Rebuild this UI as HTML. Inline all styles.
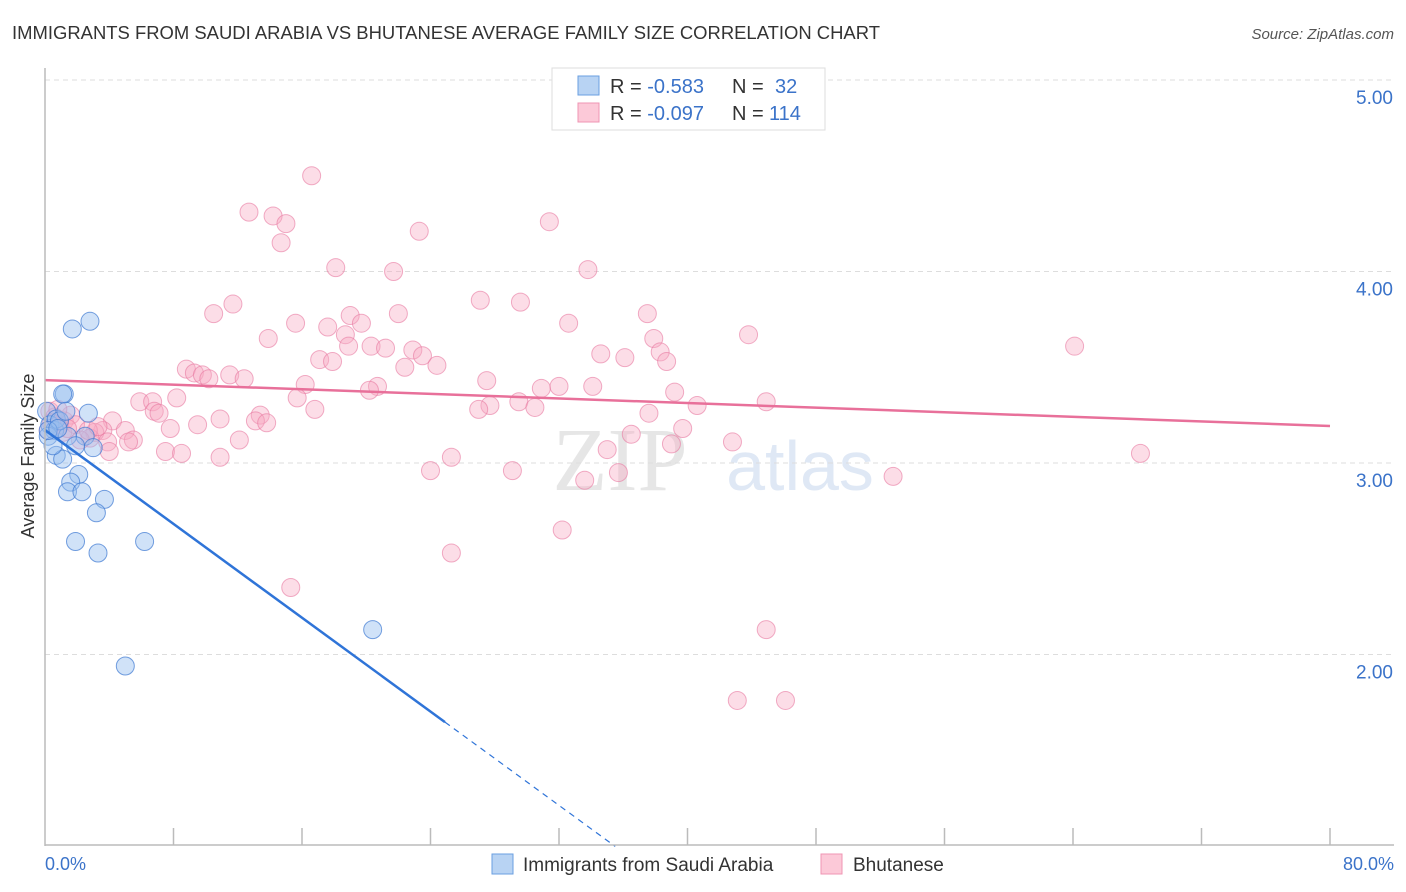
<!DOCTYPE html>
<html><head><meta charset="utf-8"><style>
body{margin:0;background:#fff;font-family:"Liberation Sans",sans-serif;}
#wrap{position:relative;width:1406px;height:892px;overflow:hidden;}
</style></head><body>
<div id="wrap">
<svg id="svg" width="1406" height="892" xmlns="http://www.w3.org/2000/svg">
<text x="12" y="39" font-size="18" fill="#333" textLength="868" lengthAdjust="spacingAndGlyphs">IMMIGRANTS FROM SAUDI ARABIA VS BHUTANESE AVERAGE FAMILY SIZE CORRELATION CHART</text>
<text x="1394" y="39" font-size="15" fill="#555" font-style="italic" text-anchor="end">Source: ZipAtlas.com</text>
<text x="620" y="490" font-size="90" fill="#e6e6e6" font-family="Liberation Serif" text-anchor="middle">ZIP</text>
<text x="800" y="490" font-size="70" fill="#dfe8f5" text-anchor="middle">atlas</text>
<text transform="translate(34,456) rotate(-90)" font-size="18" fill="#333" text-anchor="middle">Average Family Size</text>
<g id="grid"></g><g id="pts"></g><g id="lines"></g>
<line x1="45" y1="68" x2="45" y2="846" stroke="#bbb" stroke-width="1.5"/>
<line x1="45" y1="845" x2="1394" y2="845" stroke="#bbb" stroke-width="1.5"/>
<text x="45" y="870" font-size="18" fill="#3b73c9">0.0%</text>
<text x="1394" y="870" font-size="18" fill="#3b73c9" text-anchor="end">80.0%</text>
<g>
<rect x="552" y="68" width="273" height="62" fill="#fff" stroke="#ddd"/>
<rect x="578" y="76" width="21" height="19" fill="#b8d3f3" stroke="#6a9fe0"/>
<rect x="578" y="103" width="21" height="19" fill="#fcc9d8" stroke="#ef95b3"/>
<text x="610" y="93" font-size="20" fill="#333">R = <tspan fill="#3b73c9">-0.583</tspan><tspan x="732">N = </tspan><tspan x="775" fill="#3b73c9">32</tspan></text>
<text x="610" y="120" font-size="20" fill="#333">R = <tspan fill="#3b73c9">-0.097</tspan><tspan x="732">N = </tspan><tspan x="769" fill="#3b73c9">114</tspan></text>
</g>
<g>
<rect x="492" y="854" width="21" height="20" fill="#b8d3f3" stroke="#6a9fe0"/>
<text x="523" y="871" font-size="19" fill="#333">Immigrants from Saudi Arabia</text>
<rect x="821" y="854" width="21" height="20" fill="#fcc9d8" stroke="#ef95b3"/>
<text x="853" y="871" font-size="19" fill="#333">Bhutanese</text>
</g>
</svg>
</div>
<script>
const yTicks=[2,3,4,5];
const xTickCount=10;
const blueX=[1.7,2.8,1.2,1.1,2.7,0.1,0.3,0.6,1.4,2.5,0.7,1.1,2.1,1.6,1.4,2.3,3.7,3.2,1.9,3.3,6.2,20.4,5.0,3.0,0.7,0.2,0.9,1.9,0.5,0.2,0.8,1.3];
const blueY=[3.70,3.74,3.36,3.36,3.26,3.27,3.20,3.17,3.14,3.14,3.04,3.02,2.94,2.90,2.85,2.85,2.81,2.74,2.59,2.53,2.59,2.13,1.94,3.08,3.23,3.14,3.22,3.09,3.09,3.17,3.18,3.27];
const pinkX=[16.6,12.7,14.2,15.0,23.3,31.4,14.7,18.1,21.7,33.8,11.7,10.5,27.1,29.6,22.0,19.0,15.6,17.6,19.7,37.5,32.6,13.9,18.7,37.9,43.8,64.1,18.9,20.3,21.2,22.9,17.1,17.9,23.5,34.6,36.1,38.3,38.7,22.4,24.4,8.8,9.3,9.8,10.2,11.5,12.4,16.2,20.7,20.2,27.5,30.9,32.0,34.1,39.2,5.9,6.7,8.2,15.7,29.5,27.7,40.6,44.9,27.0,30.5,6.8,7.1,16.8,37.6,10.9,13.4,13.1,13.8,9.5,7.8,4.2,5.0,3.6,3.1,36.5,39.7,12.1,5.5,5.2,3.9,2.8,39.0,42.8,4.0,7.5,8.5,10.9,25.3,35.0,68.2,24.0,29.1,35.7,33.6,52.8,32.2,25.3,15.3,44.9,43.1,46.1,0.3,0.6,0.9,1.2,1.6,0.2,1.1,1.9,0.8,1.4,0.4,2.2,2.7,3.3];
const pinkY=[4.50,4.31,4.29,4.25,4.21,4.26,4.15,4.02,4.00,4.01,3.83,3.78,3.85,3.84,3.78,3.77,3.73,3.71,3.73,3.78,3.73,3.65,3.67,3.65,3.67,3.61,3.61,3.61,3.60,3.59,3.54,3.53,3.56,3.57,3.55,3.58,3.53,3.50,3.51,3.49,3.47,3.46,3.44,3.46,3.44,3.41,3.40,3.38,3.43,3.39,3.40,3.40,3.37,3.32,3.32,3.34,3.34,3.32,3.30,3.30,3.32,3.28,3.29,3.27,3.26,3.28,3.26,3.23,3.25,3.22,3.21,3.20,3.18,3.22,3.17,3.17,3.16,3.15,3.18,3.12,3.12,3.11,3.11,3.13,3.10,3.11,3.06,3.06,3.05,3.03,3.03,3.07,3.05,2.96,2.96,2.95,2.91,2.93,2.65,2.53,2.35,2.13,1.76,1.76,3.27,3.24,3.20,3.22,3.25,3.17,3.16,3.20,3.28,3.18,3.21,3.12,3.17,3.19];
const blueTrend=[3.172,1.647,24.9];
const pinkTrend=[3.433,3.193];
const NS="http://www.w3.org/2000/svg";
const xs=v=>45+v/80*1285;
const ys=v=>463-(v-3)*191.5;
function mk(tag,attrs,parent){const e=document.createElementNS(NS,tag);for(const k in attrs)e.setAttribute(k,attrs[k]);document.getElementById(parent).appendChild(e);return e;}
yTicks.forEach(t=>{
  const l=mk('line',{x1:45,x2:1394,y1:ys(t),y2:ys(t),stroke:'#ddd','stroke-dasharray':'5,4'},'grid');
  
  
  const tx=mk('text',{x:1393,y:ys(t)+24,'font-size':19,fill:'#3b73c9','text-anchor':'end'},'grid');
  tx.textContent=t.toFixed(2);
  
  
});
for(let i=1;i<=xTickCount;i++){
  const l=mk('line',{x1:xs(i*8),x2:xs(i*8),y1:828,y2:845,stroke:'#bbb','stroke-width':1.5},'grid');
  
  
}
pinkX.forEach((x,i)=>{
  const c=mk('circle',{cx:xs(x),cy:ys(pinkY[i]),r:9,fill:'rgba(248,170,195,0.4)',stroke:'rgba(232,120,160,0.6)','stroke-width':1},'pts');
  
  
});
blueX.forEach((x,i)=>{
  const c=mk('circle',{cx:xs(x),cy:ys(blueY[i]),r:9,fill:'rgba(150,190,240,0.45)',stroke:'rgba(60,120,210,0.7)','stroke-width':1},'pts');
  
  
});
const slope=(blueTrend[1]-blueTrend[0])/blueTrend[2];
const bl=mk('line',{x1:xs(0),y1:ys(blueTrend[0]),x2:xs(blueTrend[2]),y2:ys(blueTrend[1]),stroke:'#2f74d8','stroke-width':2.5},'lines');


const xEnd=35.5;
const bd=mk('line',{x1:xs(blueTrend[2]),y1:ys(blueTrend[1]),x2:xs(xEnd),y2:ys(blueTrend[0]+slope*xEnd),stroke:'#2f74d8','stroke-width':1.2,'stroke-dasharray':'6,5'},'lines');


const pl=mk('line',{x1:xs(0),y1:ys(pinkTrend[0]),x2:xs(80),y2:ys(pinkTrend[1]),stroke:'#e8709a','stroke-width':2.5},'lines');


</script>
</body></html>
